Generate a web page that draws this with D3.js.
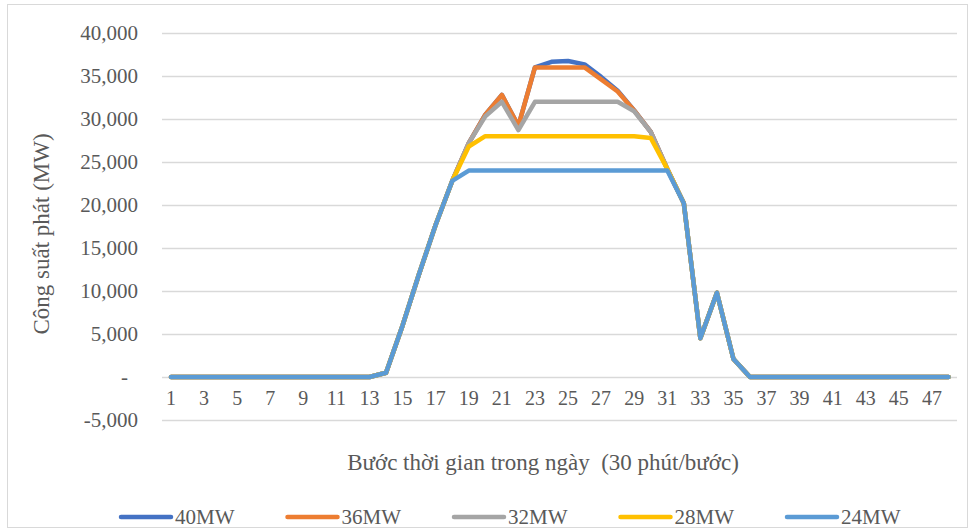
<!DOCTYPE html>
<html>
<head>
<meta charset="utf-8">
<script src="https://cdn.jsdelivr.net/npm/d3@7"></script>
<style>
  body { margin: 0; background: #fff; }
  text { font-family: "Liberation Serif", "Times New Roman", serif; fill: #595959; white-space: pre; }
</style>
</head>
<body>
<svg id="chart" width="974" height="531"></svg>
<script>
const steps = d3.range(1, 49);
const yTicks = [-5000, 0, 5000, 10000, 15000, 20000, 25000, 30000, 35000, 40000];
const seriesNames = ["40MW", "36MW", "32MW", "28MW", "24MW"];
const seriesColors = ["#4472C4", "#ED7D31", "#A5A5A5", "#FFC000", "#5B9BD5"];

const zeros13 = [0,0,0,0,0,0,0,0,0,0,0,0,0];
const zeros12 = [0,0,0,0,0,0,0,0,0,0,0,0];

const mw40 = zeros13.concat([500, 6000, 12000, 17700, 22800,
  27200, 30500, 32800, 29200, 36000, 36650, 36750, 36350, 34900, 33300, 31000, 28500, 24200,
  20200, 4500, 9800, 2100, 0], zeros12);
const mw36 = zeros13.concat([500, 6000, 12000, 17700, 22800,
  27200, 30500, 32800, 29200, 36000, 36000, 36000, 36000, 34600, 33200, 31000, 28500, 24200,
  20200, 4500, 9800, 2100, 0], zeros12);
const mw32 = zeros13.concat([500, 6000, 12000, 17700, 22800,
  27200, 30300, 32000, 28700, 32000, 32000, 32000, 32000, 32000, 32000, 30900, 28500, 24200,
  20200, 4500, 9800, 2100, 0], zeros12);
const mw28 = zeros13.concat([500, 6000, 12000, 17700, 22800,
  26800, 28000, 28000, 28000, 28000, 28000, 28000, 28000, 28000, 28000, 28000, 27800, 24200,
  20200, 4500, 9800, 2100, 0], zeros12);
const mw24 = zeros13.concat([500, 6000, 12000, 17700, 22800,
  24000, 24000, 24000, 24000, 24000, 24000, 24000, 24000, 24000, 24000, 24000, 24000, 24000,
  20200, 4500, 9800, 2100, 0], zeros12);

const allSeries = [mw40, mw36, mw32, mw28, mw24];

const svg = d3.select("#chart");

// outer chart frame
svg.append("rect")
    .attr("x", 7.5).attr("y", 4.5)
    .attr("width", 960).attr("height", 523)
    .attr("fill", "none")
    .attr("stroke", "#D9D9D9");

const x = d3.scalePoint().domain(steps).range([171, 948.5]);
const y = d3.scaleLinear().domain([-5000, 40000]).range([420, 33]);

const plotLeft = 162, plotRight = 957;

svg.append("g").selectAll("line")
    .data(yTicks)
    .join("line")
    .attr("x1", plotLeft).attr("x2", plotRight)
    .attr("y1", d => Math.round(y(d)) + 0.5)
    .attr("y2", d => Math.round(y(d)) + 0.5)
    .attr("stroke", "#D9D9D9")
    .attr("stroke-width", 1.3);

const fmt = d3.format(",");
svg.append("g").selectAll("text")
    .data(yTicks)
    .join("text")
    .attr("x", d => d === 0 ? 128 : 138)
    .attr("y", d => y(d))
    .attr("dy", "0.35em")
    .attr("text-anchor", "end")
    .style("font-size", "21px")
    .text(d => d === 0 ? "-" : fmt(d).replace("\u2212", "-"));

svg.append("g").selectAll("text")
    .data(steps.filter(d => d % 2 === 1))
    .join("text")
    .attr("x", d => x(d))
    .attr("y", 398)
    .attr("dy", "0.35em")
    .attr("text-anchor", "middle")
    .style("font-size", "20px")
    .text(d => d);

const line = d3.line()
    .x((d, i) => x(steps[i]))
    .y(d => y(d));

svg.append("g").selectAll("path")
    .data(allSeries)
    .join("path")
    .attr("d", d => line(d))
    .attr("fill", "none")
    .attr("stroke", (d, i) => seriesColors[i])
    .attr("stroke-width", 4.5)
    .attr("stroke-linejoin", "round")
    .attr("stroke-linecap", "round");

svg.append("text")
    .attr("x", 543)
    .attr("y", 462)
    .attr("dy", "0.35em")
    .attr("text-anchor", "middle")
    .style("font-size", "23px")
    .text("Bước thời gian trong ngày  (30 phút/bước)");

svg.append("text")
    .attr("transform", "translate(41,234) rotate(-90)")
    .attr("dy", "0.35em")
    .attr("text-anchor", "middle")
    .style("font-size", "23px")
    .text("Công suất phát (MW)");

const legend = svg.append("g").selectAll("g")
    .data(seriesNames)
    .join("g")
    .attr("transform", (d, i) => "translate(" + (121 + i * 166.5) + ",517)");

legend.append("line")
    .attr("x1", 0).attr("x2", 50)
    .attr("stroke", (d, i) => seriesColors[i])
    .attr("stroke-width", 4.5)
    .attr("stroke-linecap", "round");

legend.append("text")
    .attr("x", 54)
    .attr("dy", "0.35em")
    .style("font-size", "21px")
    .text(d => d);
</script>
</body>
</html>
